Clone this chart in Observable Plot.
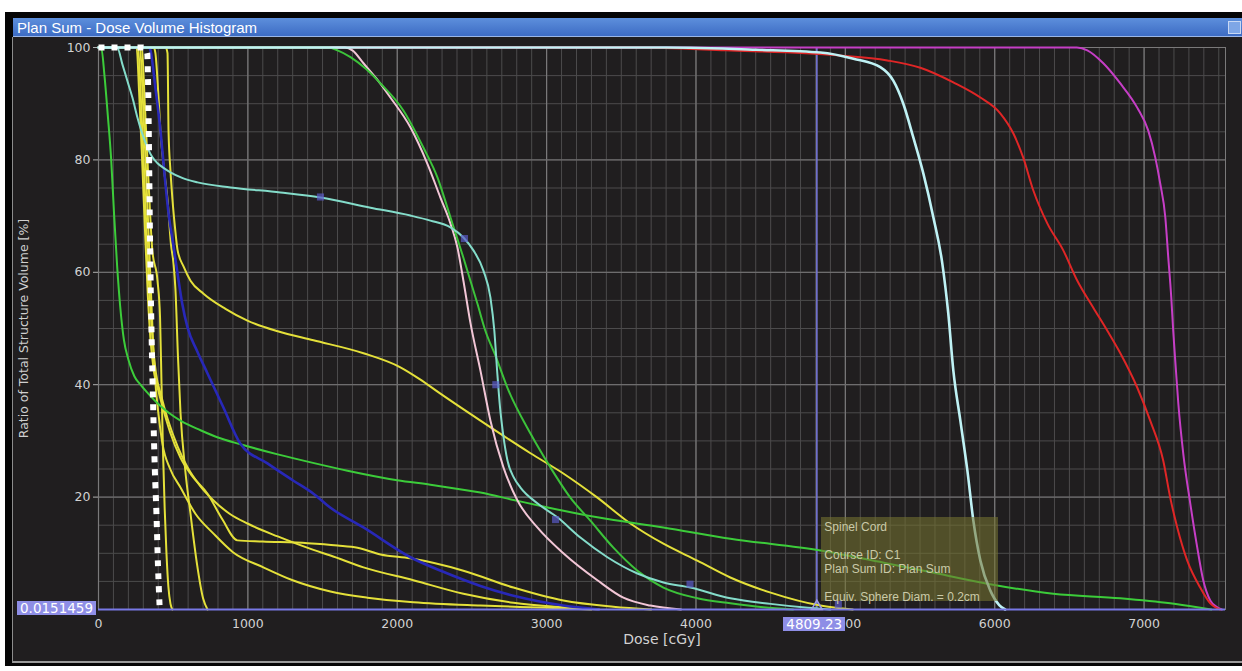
<!DOCTYPE html>
<html><head><meta charset="utf-8">
<script src="https://cdn.jsdelivr.net/npm/d3@7"></script>
<script src="https://cdn.jsdelivr.net/npm/@observablehq/plot@0.6"></script>
<style>
html,body{margin:0;padding:0;background:#fff;}
#wrap{position:relative;width:1242px;height:671px;overflow:hidden;background:#fff;}
#outer{position:absolute;left:5px;top:12px;width:1237px;height:654px;background:#050505;}
#panel{position:absolute;left:12px;top:37px;width:1230px;height:626px;background:#201e1f;border-left:1px solid #8c8c8c;border-bottom:2px solid #9a9a9a;box-sizing:border-box;}
#titlebar{position:absolute;left:13px;top:18px;width:1229px;height:19px;background:linear-gradient(#5d8fdc,#3d6cc4);color:#fff;font:15px "Liberation Sans",Arial,sans-serif;line-height:19px;padding-left:4px;box-sizing:border-box;border-bottom:1px solid #9ab6e6;}
#icon{position:absolute;left:1228px;top:21px;width:13px;height:13px;background:#7ea6e6;border:1px solid #c8d8f4;box-sizing:border-box;}
#chart{position:absolute;left:0;top:0;}
.lbl{position:absolute;background:#8e8ee6;color:#fff;font:13.5px "DejaVu Sans",sans-serif;line-height:14px;padding:0 3px;}
#tip{position:absolute;background:rgba(118,116,48,0.58);color:#cacaa8;font:12px "Liberation Sans",Arial,sans-serif;line-height:14px;padding:3px 3px;box-sizing:border-box;white-space:pre;}
</style></head>
<body><div id="wrap">
<div id="outer"></div><div id="panel"></div>
<div id="chart"></div>
<div id="titlebar">Plan Sum - Dose Volume Histogram</div><div id="icon"></div>
</div>
<script>
// ---- data: [dose cGy, volume %] ----
const dottedWhite = [[0,100],[300,100],[326,99],[333,92],[338,82],[343,70],[348,60],[356,48],[366,36],[377,25],[388,17],[398,8],[410,0]];
const greenLong = [[0,100],[18,100],[40,95],[62,88],[85,80],[105,70],[125,61],[145,54],[170,48],[200,44.5],[240,41.5],[281,40],[330,38.5],[395,36.7],[470,35],[549,33.6],[683,31.9],[800,30.6],[950,29.4],[1200,27.6],[1450,26],[1667,24.7],[2000,23],[2222,22.2],[2557,20.8],[2778,19.5],[3000,18.2],[3340,16.4],[3782,14.6],[4230,12.6],[4833,10.5],[5281,8.2],[5600,6.5],[5950,4.6],[6392,2.8],[6841,2.0],[7175,1.1],[7356,0.4],[7450,0]];
const cyanA = [[0,100],[125,100],[160,97],[194,94],[228,91],[261,87.5],[295,84.5],[328,82.2],[360,80.5],[395,79.4],[440,78.5],[482,77.8],[560,76.8],[663,76],[884,75.1],[1218,74.2],[1486,73.3],[1821,71.5],[2088,70.1],[2222,69.2],[2356,68],[2443,66.2],[2510,63.9],[2577,60.3],[2624,55.5],[2650,49.6],[2670,42],[2688,36],[2710,31],[2738,26.5],[2780,23.5],[2825,21.7],[2938,18.9],[3072,16.4],[3226,12.8],[3407,9.3],[3608,6.4],[3782,4.8],[3962,3.9],[4230,2.0],[4500,1.0],[4750,0.3],[4900,0]];
const pink = [[0,100],[1650,100],[1700,99.5],[1774,97.2],[1860,94.5],[1954,91.1],[2088,85.8],[2202,79.3],[2289,73.3],[2356,68.7],[2403,64.4],[2443,58.5],[2490,51],[2557,42.5],[2624,33.6],[2711,25.3],[2805,19.4],[2938,14.6],[3112,10],[3340,5.2],[3514,2.1],[3695,0.7],[3900,0]];
const greenB = [[0,100],[1540,100],[1600,99.5],[1687,98.3],[1790,96.2],[1888,93.6],[2041,88.8],[2175,82.2],[2269,76.9],[2356,69.8],[2443,62.6],[2537,54.4],[2590,49.6],[2660,45],[2737,39.5],[2892,31.3],[3025,25.3],[3159,19.9],[3293,15.8],[3447,11],[3608,6.9],[3782,3.9],[4009,2],[4230,1.1],[4450,0.4],[4650,0]];
const cyanB = [[0,100],[3800,100],[4400,99.6],[4833,99.1],[5054,98],[5234,96.5],[5321,94.1],[5388,90],[5455,84],[5522,77.6],[5589,69.8],[5649,61.6],[5689,52.7],[5723,42.5],[5770,33.6],[5817,24.7],[5857,15.8],[5904,8.7],[5970,3.4],[6030,0.8],[6070,0]];
const red = [[0,100],[3600,100],[4200,99.5],[4946,98.6],[5281,97.7],[5502,96.4],[5723,93.8],[5904,91.1],[6037,88.3],[6125,84.7],[6191,80.4],[6258,74.6],[6352,68.7],[6459,63.9],[6553,58.5],[6660,53.7],[6754,49.6],[6841,45.6],[6954,39.5],[7041,33.6],[7128,26.5],[7175,19.9],[7222,14.6],[7289,8.7],[7376,3.9],[7443,1.1],[7510,0]];
const magenta = [[0,100],[6550,100],[6620,99.5],[6727,97.2],[6841,93.6],[6954,89.3],[7028,85.2],[7075,80.4],[7108,75.8],[7142,69.8],[7162,62.6],[7182,55.5],[7195,49.6],[7212,43],[7229,36.7],[7262,27.8],[7309,18.9],[7356,11],[7396,5.2],[7443,1.6],[7490,0.4],[7520,0]];
const blue = [[0,100],[340,100],[348,99.5],[380,93],[415,85.2],[440,78],[469,70.5],[500,65],[529,59.8],[560,54.5],[596,50.2],[660,46],[730,42],[837,35.9],[950,29.5],[1131,26],[1300,23],[1439,20.6],[1553,18.1],[1774,14.6],[2088,9.3],[2300,6.8],[2557,4.2],[2800,2.3],[3112,0.7],[3350,0]];
const yellow1 = [[0,100],[290,100],[310,90],[335,76],[360,64],[395,58.5],[412,52],[422,40],[432,28],[443,18],[455,10],[468,4],[482,1],[495,0]];
const yellow2 = [[0,100],[370,100],[381,99],[400,92],[415,85],[440,78],[462,73],[485,65],[502,61.6],[515,57],[532,45],[549,35],[580,25],[616,17],[660,8],[700,2],[730,0]];
const yellow3 = [[0,100],[450,100],[462,99],[469,85],[482,78],[495,73],[512,68],[529,64],[570,61],[616,58.5],[703,56.2],[850,53.5],[997,51.4],[1200,49.5],[1439,47.9],[1774,45.6],[2021,43.1],[2150,41],[2289,38.4],[2557,33.6],[2892,27.8],[3112,24.2],[3340,19.9],[3561,15.3],[3782,11.7],[4009,8.7],[4230,5.7],[4500,3],[4833,0.7],[5050,0]];
const yellow4 = [[0,100],[255,100],[272,92],[292,80],[312,67],[330,56],[348,48],[370,42.5],[400,39],[435,35.5],[480,31.5],[549,27],[620,24],[730,20.6],[830,16],[930,12.3],[1100,12.1],[1400,11.8],[1600,11.4],[1734,11],[1888,9.8],[2088,9.1],[2443,6.9],[2778,3.9],[3112,1.6],[3447,0.5],[3700,0]];
const yellow5 = [[0,100],[265,100],[282,92],[302,80],[322,67],[342,56],[362,48],[385,42],[420,38],[462,34],[530,29],[596,25.3],[680,22],[770,19.4],[880,17],[997,15.3],[1200,13],[1439,10.6],[1553,9.6],[1774,7.5],[2108,5.2],[2443,2.8],[2778,1.2],[3112,0.4],[3350,0]];
const yellow6 = [[0,100],[278,100],[295,92],[315,80],[335,67],[352,56],[368,46],[385,39],[405,34],[428,29.5],[480,25],[549,21.7],[650,17],[770,13.5],[900,10.2],[1104,7.5],[1300,5.2],[1553,3.2],[1800,2.1],[2108,1.3],[2557,0.7],[3000,0.3],[3300,0]];

// drawing order: first listed is drawn underneath
const seriesNames = ["Magenta","Red","Yellow 1","Yellow 2","Yellow 3","Yellow 4","Yellow 5","Yellow 6","Green long","Blue","Pink","Green B","Cyan A","Cyan B"];
const seriesData = [magenta,red,yellow1,yellow2,yellow3,yellow4,yellow5,yellow6,greenLong,blue,pink,greenB,cyanA,cyanB];
const seriesColors = ["#c63ec6","#e02626","#e4e03a","#e4e03a","#e4e03a","#e4e03a","#e4e03a","#e4e03a","#3ccc3a","#2828b8","#f2c6d6","#3cc23a","#84dcca","#bff2f5"];
const seriesWidths = [2,2,2,2,2,2,2,2,2,2.6,2,2,2,2.6];

const cyanMarkers = [[1486,73.4],[2450,66],[2660,40],[3060,16],[3960,4.5],[4953,0.9]];
const crossDose = 4809.23;
const crossVolume = 0.0151459;
const xMajorTicks = [0,1000,2000,3000,4000,5000,6000,7000];
const xMinorTicks = d3.range(0, 7600, 100);
const yMajorTicks = [0,20,40,60,80,100];
const yMinorTicks = d3.range(0, 101, 5);
const yLabelTicks = [20,40,60,80,100];
const tipLines = ["Spinel Cord","","Course ID: C1","Plan Sum ID: Plan Sum","","Equiv. Sphere Diam. = 0.2cm"];

// ---- build ----
const rows = [];
seriesData.forEach((s, i) => s.forEach(([d, v]) => rows.push({series: seriesNames[i], dose: d, vol: v, w: seriesWidths[i]})));
const dottedRows = dottedWhite.map(([d, v]) => ({dose: d, vol: v}));

const font = "DejaVu Sans, sans-serif";
const chart = Plot.plot({
  width: 1242, height: 671,
  marginLeft: 98, marginRight: 17, marginTop: 47, marginBottom: 62,
  style: {background: "transparent", color: "#d0d0d0", fontFamily: font, fontSize: "12.5px"},
  x: {domain: [0, 7545]},
  y: {domain: [0, 100]},
  color: {domain: seriesNames, range: seriesColors},
  marks: [
    Plot.ruleX(xMinorTicks, {stroke: "#4c4b4c", strokeWidth: 1}),
    Plot.ruleY(yMinorTicks, {stroke: "#4c4b4c", strokeWidth: 1}),
    Plot.ruleX(xMajorTicks, {stroke: "#7a797a", strokeWidth: 1.2}),
    Plot.ruleY(yMajorTicks, {stroke: "#6e6d6e", strokeWidth: 1.2}),
    Plot.frame({stroke: "#7a797a"}),
    Plot.axisX(xMajorTicks, {tickSize: 0, tickPadding: 10, tickFormat: d => String(d), fill: "#d2d2d2", fontSize: 12.5, label: null}),
    Plot.axisY(yLabelTicks, {tickSize: 5, tickPadding: 3, tickFormat: d => String(d), stroke: "#b0b0b0", fill: "#d2d2d2", fontSize: 12.5, label: null}),
    Plot.text(["Dose [cGy]"], {frameAnchor: "bottom", dy: 34, fill: "#d2d2d2", fontSize: 14}),
    Plot.text(["Ratio of Total Structure Volume [%]"], {frameAnchor: "left", textAnchor: "middle", rotate: -90, dx: -75, fill: "#cfcfcf", fontSize: 12.5}),
    Plot.ruleX([crossDose], {stroke: "#7676d6", strokeWidth: 1.6}),
    Plot.line(rows, {x: "dose", y: "vol", z: "series", stroke: "series", strokeWidth: "w", curve: "monotone-x"}),
    Plot.line(dottedRows, {x: "dose", y: "vol", stroke: "#ffffff", strokeWidth: 6, strokeDasharray: "6,7", strokeLinecap: "butt", strokeLinejoin: "miter", curve: "monotone-x"}),
    Plot.ruleY([crossVolume], {stroke: "#7878e6", strokeWidth: 2}),
    Plot.dot(cyanMarkers, {x: d => d[0], y: d => d[1], symbol: "square", r: 4, fill: "#5a5ac8", fillOpacity: 0.7}),
    Plot.dot([crossDose], {x: d => d, y: () => crossVolume, symbol: "triangle", r: 4, stroke: "#9a9ae8", fill: "none", dy: -3})
  ]
});
document.getElementById("chart").appendChild(chart);

const sx = chart.scale("x"), sy = chart.scale("y");
const wrap = document.getElementById("wrap");
function addLabel(text, left, top) {
  const el = document.createElement("div");
  el.className = "lbl"; el.textContent = text;
  el.style.left = left + "px"; el.style.top = top + "px";
  wrap.appendChild(el);
  return el;
}
const yl = addLabel(String(crossVolume), 0, sy.apply(crossVolume) - 8);
yl.style.left = (96 - yl.offsetWidth) + "px";
const xl = addLabel(String(crossDose), 0, 617);
xl.style.left = (sx.apply(crossDose) + 29 - xl.offsetWidth) + "px";

const tip = document.createElement("div");
tip.id = "tip";
tip.textContent = tipLines.join("\n");
tip.style.left = (sx.apply(crossDose) + 5) + "px";
tip.style.top = "517px";
tip.style.width = "177px";
tip.style.height = "84px";
wrap.appendChild(tip);
</script>
</body></html>
